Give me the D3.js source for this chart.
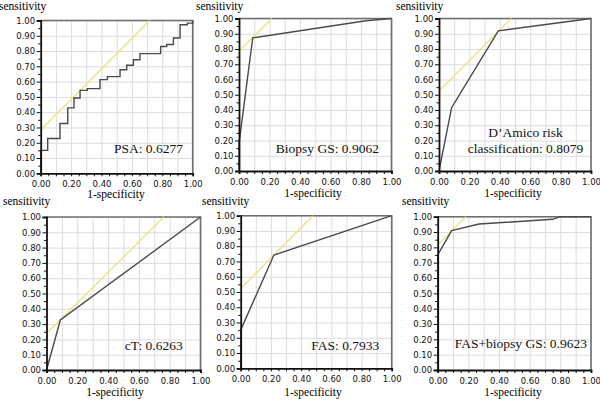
<!DOCTYPE html>
<html>
<head>
<meta charset="utf-8">
<script src="https://cdn.jsdelivr.net/npm/d3@7"></script>
<style>
  body { margin: 0; background: #fff; }
  svg { display: block; }
</style>
</head>
<body>
<svg id="roc"></svg>
<script>
// ROC CURVES, six panels

// panel names and AUC values
let names = ["PSA", "Biopsy GS", "D\u2019Amico risk\nclassification", "cT", "FAS", "FAS+biopsy GS"];
let aucs = ["0.6277", "0.9062", "0.8079", "0.6263", "0.7933", "0.9623"];

// curve points (1-specificity, sensitivity)
let psaFpr = [0, 0, 0.046, 0.127, 0.178, 0.219, 0.259, 0.307, 0.39, 0.439, 0.522, 0.566, 0.61, 0.653, 0.789, 0.829, 0.873, 0.917, 0.965, 1.0, 1.0];
let psaTpr = [0, 0.15, 0.228, 0.326, 0.428, 0.493, 0.543, 0.554, 0.613, 0.633, 0.678, 0.707, 0.743, 0.783, 0.83, 0.843, 0.885, 0.972, 0.983, 0.985, 1.0];
let biopsyFpr = [0, 0, 0.09, 0.832, 1];
let biopsyTpr = [0, 0.18, 0.873, 0.985, 1];
let damicoFpr = [0, 0.083, 0.39, 1];
let damicoTpr = [0, 0.415, 0.919, 1];
let ctFpr = [0, 0.09, 1];
let ctTpr = [0, 0.327, 1];
let fasFpr = [0, 0, 0.22, 1];
let fasTpr = [0, 0.251, 0.742, 1];
let comboFpr = [0, 0, 0.091, 0.27, 0.75, 0.8, 1];
let comboTpr = [0, 0.75, 0.909, 0.952, 0.983, 1, 1];

let fprs = [psaFpr, biopsyFpr, damicoFpr, ctFpr, fasFpr, comboFpr];
let tprs = [psaTpr, biopsyTpr, damicoTpr, ctTpr, fasTpr, comboTpr];
let stepped = [true, false, false, false, false, false];

// intercept of the yellow 45 degree tangent line (sensitivity at 1-specificity = 0)
let tangents = [0.283, 0.785, 0.525, 0.238, 0.522, 0.816];

// tick values
let gridTicks = d3.range(0, 11).map(i => i / 10);
let minorTicks = d3.range(0, 21).map(i => i / 20);
let xLabelTicks = [0, 0.2, 0.4, 0.6, 0.8, 1.0];

// layout of each panel, page pixels
let frames = [
    {x0: 40.7, x1: 192.7, y0: 20.5, y1: 173.3, sens: -1,  sensY: 9.5, title: 116, titleY: 198, ann: [183, 153], anchor: "end"},
    {x0: 239,  x1: 391.5, y0: 18.5, y1: 171,   sens: 196, sensY: 9.5, title: 313, titleY: 196.5, ann: [379, 153.3], anchor: "end"},
    {x0: 439,  x1: 591,   y0: 18.5, y1: 171,   sens: 396, sensY: 9.5, title: 513, titleY: 196.5, ann: [525.5, 136.7], anchor: "middle"},
    {x0: 46.5, x1: 200.5, y0: 217,  y1: 370,   sens: 3,   sensY: 205, title: 115, titleY: 396,   ann: [182.7, 350], anchor: "end"},
    {x0: 240.7, x1: 391.7, y0: 215.7, y1: 368.3, sens: 202, sensY: 205, title: 313, titleY: 396, ann: [379.3, 350], anchor: "end"},
    {x0: 437.7, x1: 591,  y0: 216.7, y1: 370,  sens: 402, sensY: 205, title: 513, titleY: 396,   ann: [587, 348], anchor: "end"}
];

let w = 600;
let h = 402;

let svg = d3.select("#roc")
    .attr("width", w)
    .attr("height", h);

let tickFont = "8.5px 'DejaVu Sans', sans-serif";
let serif = "'Liberation Serif', 'Times New Roman', serif";

frames.forEach(function(f, i) {
    let x = d3.scaleLinear().domain([0, 1]).range([f.x0, f.x1]);
    let y = d3.scaleLinear().domain([0, 1]).range([f.y1, f.y0]);
    let g = svg.append("g").attr("class", "panel");

    // light grid
    g.append("g")
        .attr("transform", "translate(0," + f.y1 + ")")
        .call(d3.axisBottom(x).tickValues(gridTicks).tickSize(-(f.y1 - f.y0)).tickFormat(""))
        .call(a => a.select(".domain").remove())
        .selectAll("line").attr("stroke", "#dcdcdc").attr("stroke-width", 1);
    g.append("g")
        .attr("transform", "translate(" + f.x0 + ",0)")
        .call(d3.axisLeft(y).tickValues(gridTicks).tickSize(-(f.x1 - f.x0)).tickFormat(""))
        .call(a => a.select(".domain").remove())
        .selectAll("line").attr("stroke", "#dcdcdc").attr("stroke-width", 1);

    // frame on top and right
    g.append("path")
        .attr("d", "M" + f.x0 + "," + f.y0 + "H" + f.x1 + "V" + f.y1)
        .attr("fill", "none")
        .attr("stroke", "#6e6e6e")
        .attr("stroke-width", 1.6);

    // yellow tangent line
    let b = tangents[i];
    g.append("line")
        .attr("x1", x(0)).attr("y1", y(b))
        .attr("x2", x(1 - b)).attr("y2", y(1))
        .attr("stroke", "#e9e27e")
        .attr("stroke-width", 1.3);

    // roc curve
    let pts = fprs[i].map((d, k) => [d, tprs[i][k]]);
    let line = d3.line()
        .x(d => x(d[0]))
        .y(d => y(d[1]))
        .curve(stepped[i] ? d3.curveStepAfter : d3.curveLinear);
    g.append("path")
        .datum(pts)
        .attr("d", line)
        .attr("fill", "none")
        .attr("stroke", "#4a4a4a")
        .attr("stroke-width", 1.4);

    // x axis: minor ticks, then labels
    g.append("g")
        .attr("transform", "translate(0," + f.y1 + ")")
        .call(d3.axisBottom(x).tickValues(minorTicks).tickSize(3).tickFormat(""))
        .call(a => a.select(".domain").attr("stroke", "#111").attr("stroke-width", 1.8))
        .selectAll("line").attr("stroke", "#111");
    g.append("g")
        .attr("transform", "translate(0," + f.y1 + ")")
        .call(d3.axisBottom(x).tickValues(xLabelTicks).tickSize(0).tickPadding(8).tickFormat(d3.format(".2f")))
        .call(a => a.select(".domain").remove())
        .selectAll("text").style("font", tickFont).attr("fill", "#111");

    // y axis
    g.append("g")
        .attr("transform", "translate(" + f.x0 + ",0)")
        .call(d3.axisLeft(y).tickValues(minorTicks.filter((d, k) => k % 2 == 1)).tickSize(2.5).tickFormat(""))
        .call(a => a.select(".domain").remove())
        .selectAll("line").attr("stroke", "#111");
    g.append("g")
        .attr("transform", "translate(" + f.x0 + ",0)")
        .call(d3.axisLeft(y).tickValues(gridTicks).tickSize(4).tickPadding(1.5).tickFormat(d3.format(".2f")))
        .call(a => a.select(".domain").attr("stroke", "#111").attr("stroke-width", 1.8))
        .call(a => a.selectAll("line").attr("stroke", "#111"))
        .selectAll("text").style("font", tickFont).attr("fill", "#111");

    // axis titles
    g.append("text")
        .attr("x", f.sens)
        .attr("y", f.sensY)
        .text("sensitivity")
        .attr("font-family", serif)
        .attr("font-size", "11.5px");
    g.append("text")
        .attr("x", f.title)
        .attr("y", f.titleY)
        .attr("text-anchor", "middle")
        .text("1-specificity")
        .attr("font-family", serif)
        .attr("font-size", "11.5px");

    // name and AUC
    let lines = (names[i] + ": " + aucs[i]).split("\n");
    let ann = g.append("text")
        .attr("font-family", serif)
        .attr("font-size", "13.5px")
        .attr("text-anchor", f.anchor)
        .attr("fill", "#111");
    lines.forEach(function(t, k) {
        ann.append("tspan")
            .attr("x", f.ann[0])
            .attr("y", f.ann[1] + k * 16)
            .text(t);
    });
});
</script>
</body>
</html>
